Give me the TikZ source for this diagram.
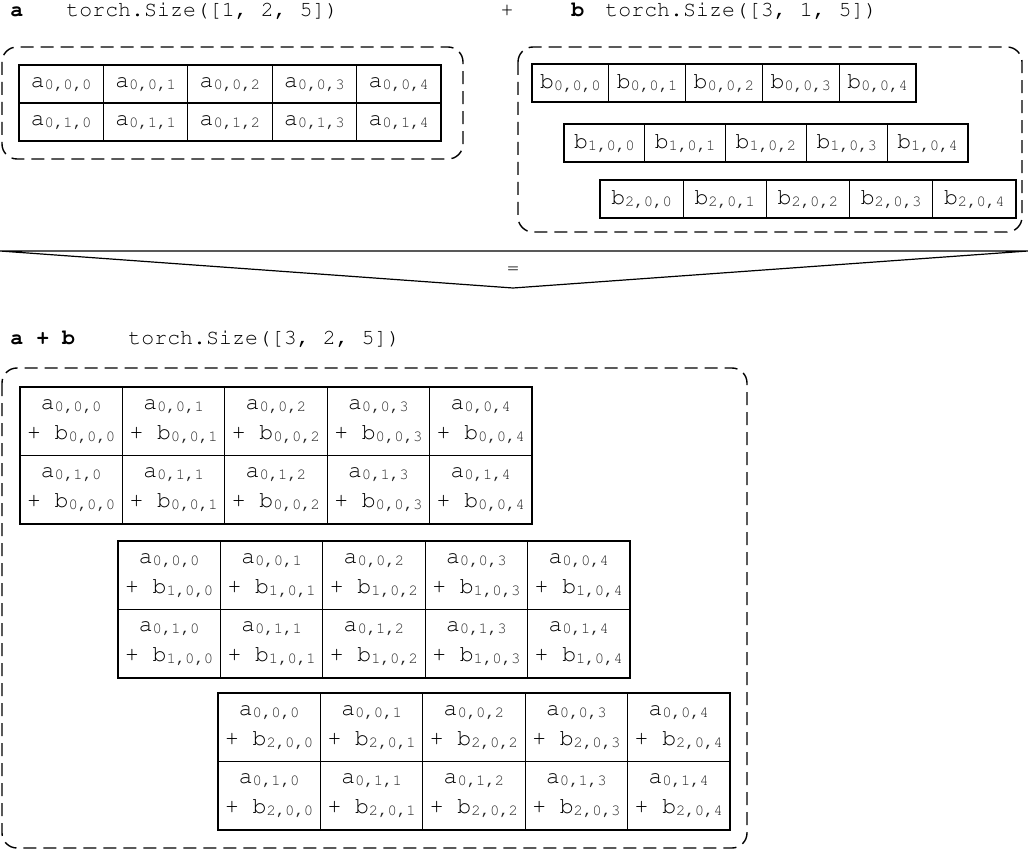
\documentclass[tikz,border=0pt]{standalone}
\usepackage[T1]{fontenc}
\usepackage{courier}
\usepackage{tikz}
\usepackage{xcolor}

\newcommand{\idx}[1]{\raisebox{-1pt}{\fontsize{7.8}{8}\selectfont\color{black!85}#1}}

\begin{document}
\begin{tikzpicture}[x=0.5pt, y=-0.5pt,
    cell/.style={draw, line width=0.6pt, inner sep=0pt, align=center,
      font=\ttfamily\fontsize{11.5}{15}\selectfont},
    box/.style={draw, dash pattern=on 6.5pt off 3.5pt, line width=0.7pt, rounded corners=7.5pt},
    lbl/.style={anchor=base west, inner sep=0pt, font=\ttfamily\fontsize{10.8}{13}\selectfont}]

                \useasboundingbox (0,0) rectangle (1028,850);

                % headings
                \node[lbl] (lblA) at (10,17) {\textbf{a}};
                \node[lbl] (sizeA) at (66,17) {torch.Size([1, 2, 5])};
                \node[lbl, anchor=base] (plus) at (507,17) {+};
                \node[lbl] (lblB) at (571,17) {\textbf{b}};
                \node[lbl] (sizeB) at (605,17) {torch.Size([3, 1, 5])};
                \node[lbl] (lblSum) at (10,344) {\textbf{a + b}};
                \node[lbl] (sizeSum) at (128,344) {torch.Size([3, 2, 5])};

                % tensor a
                \foreach \r in {0,1}
                    \foreach \c in {0,...,4}
                        \node[cell, minimum width=42.2pt, minimum height=19pt] (a-\r-\c)
                            at ({19+84.4*(\c+0.5)}, {65+38*(\r+0.5)}) {a\idx{0,\r,\c}};
                \draw[box] (2,47) rectangle (463,159);

                % tensor b
                \foreach \k/\x/\w/\y in {0/532/76.8/64, 1/564/80.8/124, 2/600/83.2/180}
                    \foreach \c in {0,...,4}
                        \node[cell, minimum width=\w*0.5pt, minimum height=19pt] (b-\k-\c)
                            at ({\x+\w*(\c+0.5)}, {\y+19}) {b\idx{\k,0,\c}};
                \draw[box] (518,47) rectangle (1022,232);

                % equals wedge
                \coordinate (braceL) at (0,251);
                \coordinate (braceR) at (1028,251);
                \coordinate (braceTip) at (513,288);
                \draw[line width=0.6pt] (braceL) -- (braceR) -- (braceTip) -- cycle;
                \node[font=\ttfamily\fontsize{10}{11}\selectfont, inner sep=0pt] (eq) at (513,271) {=};

                % a + b
                \foreach \k/\x/\y in {0/20/387, 1/118/541, 2/218/693}
                    \foreach \r in {0,1}
                        \foreach \c in {0,...,4}
                            \node[cell, minimum width=51.2pt, minimum height=34.25pt] (s-\k-\r-\c)
                                at ({\x+102.4*(\c+0.5)}, {\y+68.5*(\r+0.5)})
                                {a\idx{0,\r,\c}\\+ b\idx{\k,0,\c}};
                \draw[box] (2,368) rectangle (747,848);
            \end{tikzpicture}
\end{document}
